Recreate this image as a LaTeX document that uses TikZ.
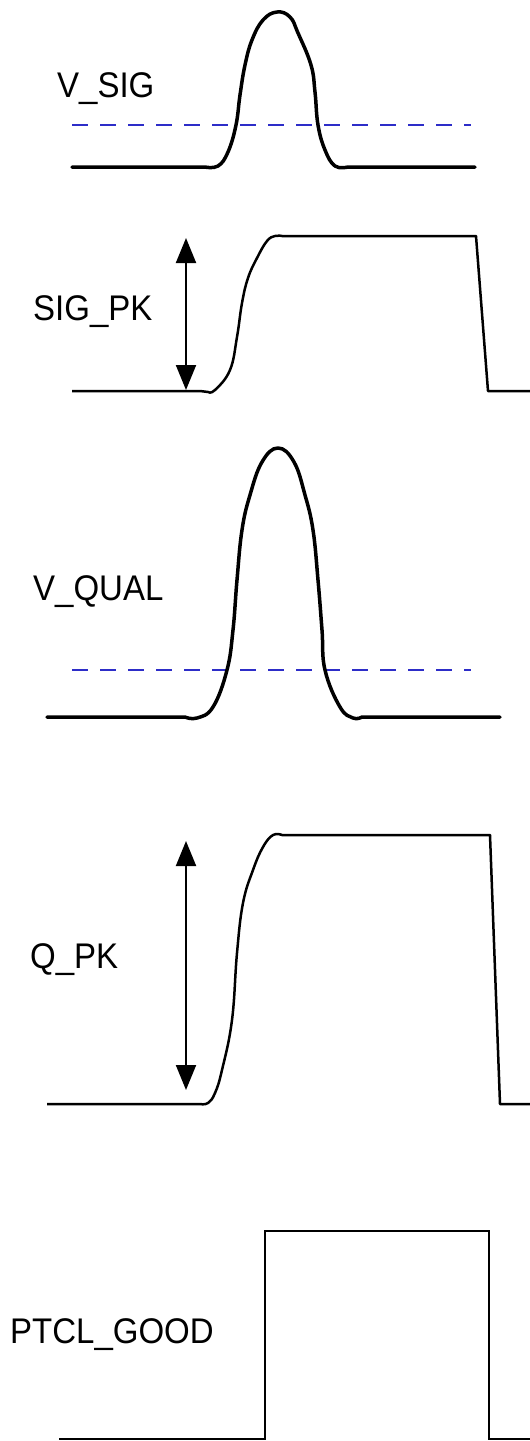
\documentclass[tikz,border=0pt]{standalone}
\usepackage{fontspec}
\setmainfont{Liberation Sans}
\usetikzlibrary{arrows.meta}
\definecolor{thrblue}{RGB}{45,45,200}
\begin{document}
\begin{tikzpicture}[x=1pt,y=-1pt,
  lbl/.style={anchor=base west,inner sep=0pt,font=\fontsize{33}{33}\selectfont},
  bigwave/.style={line width=3.5pt,line join=round,line cap=round},
  stepwave/.style={line width=2.5pt,line join=round},
  digwave/.style={line width=2pt,line join=miter},
  thresh/.style={thrblue,line width=2.5pt,dash pattern=on 16pt off 12pt},
  meas/.style={line width=2pt,{Triangle[width=20pt,length=25pt]}-{Triangle[width=20pt,length=25pt]}}]
\useasboundingbox (0,0) rectangle (530,1441);
\fill[white] (0,0) rectangle (530,1441);

% ---- V_SIG ----
\node[lbl] (vsig) at (57,97) {\scalebox{1}[1.08]{V\_SIG}};
\draw[thresh] (72,125) -- (471,125);
\draw[bigwave] (72,167) -- plot[smooth,tension=0.7] coordinates {
  (205,167) (218,166) (228,152) (236,125) (240,95) (245,65) (252,40) (263,20)
  (277,12) (290,17) (298,33) (311,65) (315,92) (318,125) (325,150) (335,166) (348,167)} -- (475,167);

% ---- SIG_PK ----
\node[lbl] (sigpk) at (33,320) {\scalebox{1}[1.08]{SIG\_PK}};
\draw[stepwave] (72,391) -- (200,391) -- plot[smooth,tension=0.7] coordinates {
  (208,392) (215,390) (230,370) (237,337) (242,303) (248,278) (257,258) (267,241) (275,236) (282,236)}
  -- (476,236) -- (488,391) -- (530,391);
\coordinate (spt) at (186,238);
\coordinate (spb) at (186,390);
\draw[meas] (spt) -- (spb);

% ---- V_QUAL ----
\node[lbl] (vqual) at (33,600) {\scalebox{1}[1.08]{V\_QUAL}};
\draw[thresh] (72,670) -- (471,670);
\draw[bigwave] (47,717) -- plot[smooth,tension=0.7] coordinates {
  (185,717) (197,718) (213,707) (227,670) (233,630) (237,580) (242,530) (250,495) (262,462)
  (278,448) (294,462) (305,495) (313,530) (318,580) (322,630) (325,670) (340,707) (353,718) (362,717)} -- (500,717);

% ---- Q_PK ----
\node[lbl] (qpk) at (30,968) {\scalebox{1}[1.08]{Q\_PK}};
\draw[stepwave] (47,1104) -- plot[smooth,tension=0.7] coordinates {
  (200,1104) (208,1103) (215,1093) (222,1070) (232,1020) (237,953) (243,903) (253,870) (263,847) (273,835) (282,835)}
  -- (490,835) -- (500,1104) -- (530,1104);
\coordinate (qpt) at (186,841);
\coordinate (qpb) at (186,1090);
\draw[meas] (qpt) -- (qpb);

% ---- PTCL_GOOD ----
\node[lbl] (ptcl) at (10,1343) {\scalebox{1}[1.08]{PTCL\_GOOD}};
\draw[digwave] (59,1439) -- (265,1439) -- (265,1231) -- (489,1231) -- (489,1439) -- (530,1439);
\end{tikzpicture}
\end{document}
